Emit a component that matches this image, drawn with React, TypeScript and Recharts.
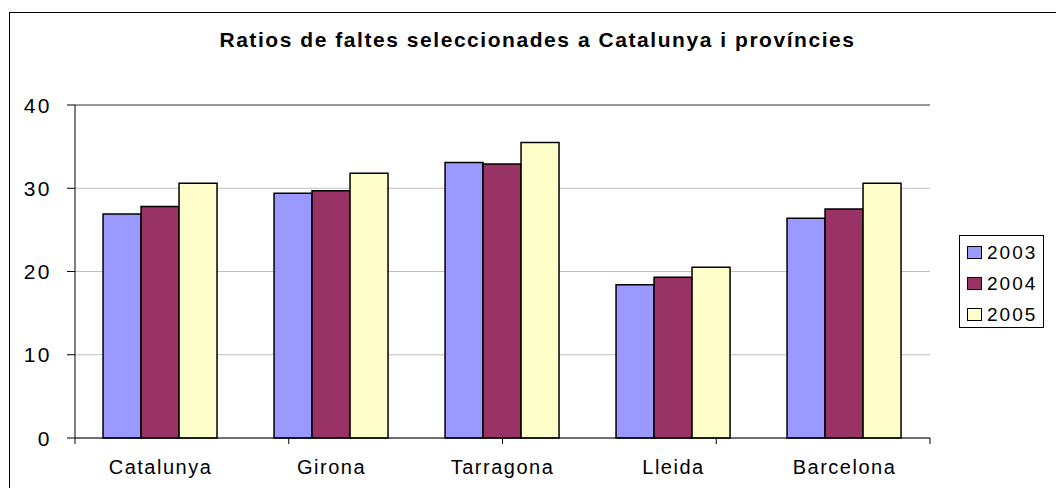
import React from "react";
import {
  BarChart,
  Bar,
  XAxis,
  YAxis,
  CartesianGrid,
  Legend,
  ReferenceLine,
} from "recharts";

const CATEGORIES = ["Catalunya", "Girona", "Tarragona", "Lleida", "Barcelona"];
const SERIES = ["2003", "2004", "2005"];
const VALUES_2003 = [26.9, 29.4, 33.1, 18.4, 26.4];
const VALUES_2004 = [27.8, 29.7, 32.9, 19.3, 27.5];
const VALUES_2005 = [30.6, 31.8, 35.5, 20.5, 30.6];
const Y_TICKS = [0, 10, 20, 30, 40];
const EDGE_TICKS = [0, 1, 2, 3, 4, 5];

const COLORS = ["#9999FF", "#993366", "#FFFFCC"];
const FONT = "'Liberation Sans', Arial, sans-serif";

const data = CATEGORIES.map((name, i) => ({
  name,
  "2003": VALUES_2003[i],
  "2004": VALUES_2004[i],
  "2005": VALUES_2005[i],
}));

const LegendBox = () => (
  <div
    style={{
      border: "1px solid #000",
      background: "#fff",
      boxSizing: "border-box",
      width: 85,
      height: 93,
      padding: "1px 0 0 7px",
    }}
  >
    {SERIES.map((s, i) => (
      <div
        key={s}
        style={{ display: "flex", alignItems: "center", height: 31 }}
      >
        <span
          style={{
            display: "inline-block",
            width: 13,
            height: 11,
            background: COLORS[i],
            border: "1.5px solid #000",
            marginRight: 5,
          }}
        />
        <span
          style={{
            fontFamily: FONT,
            fontSize: 19,
            letterSpacing: 2,
            color: "#000",
            lineHeight: "19px",
          }}
        >
          {s}
        </span>
      </div>
    ))}
  </div>
);

// y labels: drawn right-aligned at the position recharts gives
const YTick = (props: any) => {
  const { x, y, payload } = props;
  return (
    <text
      x={x - 13}
      y={y}
      dy="0.36em"
      textAnchor="end"
      fill="#000"
      fontFamily={FONT}
      fontSize={21}
      letterSpacing={2.5}
    >
      {payload.value}
    </text>
  );
};

export default function App() {
  return (
    <div
      style={{
        position: "absolute",
        left: 0,
        top: 0,
        width: 1056,
        height: 488,
        overflow: "hidden",
        background: "#fff",
      }}
    >
      <div
        style={{
          position: "absolute",
          left: 9,
          top: 12,
          width: 1100,
          height: 600,
          borderLeft: "1px solid #000",
          borderTop: "1px solid #000",
        }}
      />
      <div
        style={{
          position: "absolute",
          left: 0,
          width: 1075,
          top: 29,
          textAlign: "center",
          fontFamily: FONT,
          fontWeight: "bold",
          fontSize: 21,
          lineHeight: "21px",
          letterSpacing: 1.55,
          color: "#000",
        }}
      >
        Ratios de faltes seleccionades a Catalunya i províncies
      </div>
      <div style={{ position: "absolute", left: 0, top: 0 }}>
        <BarChart
          width={1056}
          height={488}
          data={data}
          margin={{ top: 105, right: 126, bottom: 0, left: 0 }}
          barCategoryGap="16.4%"
          barGap={0}
        >
          <CartesianGrid
            horizontal
            vertical={false}
            stroke="#c0c0c0"
            strokeWidth={1}
          />
          <XAxis
            xAxisId="a-edges"
            type="number"
            domain={[0, 5]}
            ticks={EDGE_TICKS}
            allowDataOverflow
            height={1}
            tick={() => <g />}
            tickSize={6}
            tickLine={{ stroke: "#000" }}
            axisLine={{ stroke: "#000" }}
          />
          <XAxis
            xAxisId="b-cats"
            dataKey="name"
            height={49}
            axisLine={false}
            tickLine={false}
            tickSize={0}
            tickMargin={21}
            interval={0}
            tick={{
              fill: "#000",
              fontFamily: FONT,
              fontSize: 20,
              letterSpacing: 1.5,
            }}
          />
          <YAxis
            width={75}
            domain={[0, 40]}
            ticks={Y_TICKS}
            tickSize={8}
            axisLine={{ stroke: "#000" }}
            tickLine={{ stroke: "#000" }}
            tick={<YTick />}
          />
          <ReferenceLine
            y={40}
            xAxisId="b-cats"
            stroke="#808080"
            strokeWidth={1.5}
          />
          <ReferenceLine
            xAxisId="a-edges"
            x={5}
            stroke="#808080"
            strokeWidth={1.5}
          />
          {SERIES.map((s, i) => (
            <Bar
              key={s}
              xAxisId="b-cats"
              dataKey={s}
              fill={COLORS[i]}
              stroke="#000"
              strokeWidth={1.5}
              isAnimationActive={false}
            />
          ))}
          <Legend
            layout="horizontal"
            verticalAlign="middle"
            align="center"
            content={() => <LegendBox />}
            wrapperStyle={{
              position: "absolute",
              left: 959,
              top: 235,
              width: 85,
              height: 93,
            }}
          />
        </BarChart>
      </div>
    </div>
  );
}
